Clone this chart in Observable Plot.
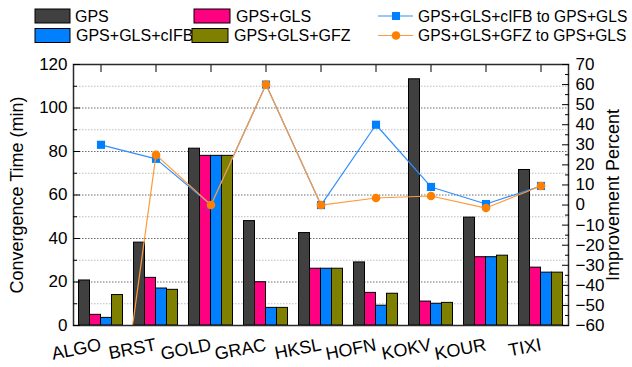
<!DOCTYPE html>
<html>
<head>
<meta charset="utf-8">
<script src="https://cdn.jsdelivr.net/npm/d3@7"></script>
<script src="https://cdn.jsdelivr.net/npm/@observablehq/plot@0.6"></script>
<style>
  body { margin: 0; background: #fff; font-family: "Liberation Sans", Arial, sans-serif; }
  #chart { position: relative; width: 632px; height: 367px; }
  #chart > svg { position: absolute; left: 0; top: 0; }
</style>
</head>
<body>
<div id="chart"></div>
<script>
// Stations and convergence times (minutes)
const stations = ["ALGO", "BRST", "GOLD", "GRAC", "HKSL", "HOFN", "KOKV", "KOUR", "TIXI"];
const gps        = [20.7, 38.1, 81.3, 48.0, 42.5, 29.0, 113.2, 49.6, 71.5];
const gpsGls     = [4.9, 21.9, 78.0, 19.9, 26.1, 15.0, 11.0, 31.4, 26.6];
const gpsGlsCifb = [3.5, 17.0, 78.0, 8.1, 26.1, 9.1, 10.0, 31.4, 24.3];
const gpsGlsGfz  = [14.0, 16.4, 78.0, 8.1, 26.1, 14.6, 10.4, 32.1, 24.3];

// Improvement (%) relative to GPS+GLS, right axis
const cifbImprovement = [30, 23, 0, 60, 0, 40, 9, 0.5, 9.5];
const gfzImprovement  = [-175, 25, 0, 60, 0, 3.5, 4.5, -1.5, 9.5];

// Axis ticks
const leftMajorTicks = [0, 20, 40, 60, 80, 100, 120];
const leftMinorTicks = [10, 30, 50, 70, 90, 110];
const rightTicks = [-60, -50, -40, -30, -20, -10, 0, 10, 20, 30, 40, 50, 60, 70];
const rightMinorTicks = [-55, -45, -35, -25, -15, -5, 5, 15, 25, 35, 45, 55, 65];

const seriesNames = ["GPS", "GPS+GLS", "GPS+GLS+cIFB", "GPS+GLS+GFZ"];
const seriesColors = ["#404040", "#FF0080", "#0080FF", "#808000"];
const seriesValues = [gps, gpsGls, gpsGlsCifb, gpsGlsGfz];
const lineNames = ["GPS+GLS+cIFB to GPS+GLS", "GPS+GLS+GFZ to GPS+GLS"];

const leftDomain = [0, 120];
const rightDomain = [-60, 70];
// map a right-axis percentage onto the left-axis scale
const toLeft = r => leftDomain[0] + (r - rightDomain[0]) * (leftDomain[1] - leftDomain[0]) / (rightDomain[1] - rightDomain[0]);
const fromLeft = v => rightDomain[0] + (v - leftDomain[0]) * (rightDomain[1] - rightDomain[0]) / (leftDomain[1] - leftDomain[0]);

// four bars per station, each a fifth of the station band
const barRows = seriesValues.flatMap((vals, j) =>
  stations.map((s, i) => ({ station: s, series: seriesNames[j], value: vals[i], x1: i - 0.4 + 0.2 * j, x2: i - 0.2 + 0.2 * j }))
);
const cifbRows = stations.map((s, i) => ({ i, v: toLeft(cifbImprovement[i]) }));
const gfzRows = stations.map((s, i) => ({ i, v: toLeft(gfzImprovement[i]) }));
const idx = d3.range(stations.length);

const font = "'Liberation Sans', Arial, sans-serif";

const plot = Plot.plot({
  width: 632,
  height: 367,
  marginLeft: 73,
  marginRight: 64,
  marginTop: 64,
  marginBottom: 42,
  style: { fontFamily: font, background: "transparent", color: "#000" },
  x: { domain: [-0.5, stations.length - 0.5], axis: null },
  y: { domain: leftDomain, axis: null },
  color: { domain: seriesNames, range: seriesColors },
  marks: [
    Plot.ruleY(leftMinorTicks, { stroke: "#bdbdbd", strokeDasharray: "1.5,1.5", strokeWidth: 1 }),
    Plot.ruleY(leftMajorTicks.slice(1, -1), { stroke: "#6e6e6e", strokeDasharray: "1.5,1.5", strokeWidth: 1 }),
    Plot.rectY(barRows, { x1: "x1", x2: "x2", y1: 0, y2: "value", fill: "series", stroke: "#000", strokeWidth: 1 }),
    Plot.line(cifbRows, { x: "i", y: "v", stroke: "#2F8FFF", strokeWidth: 1.2, clip: true }),
    Plot.dot(cifbRows, { x: "i", y: "v", symbol: "square", r: 4.6, fill: "#0080FF", clip: true }),
    Plot.line(gfzRows, { x: "i", y: "v", stroke: "#FF9A3C", strokeWidth: 1.2, clip: true }),
    Plot.dot(gfzRows, { x: "i", y: "v", symbol: "circle", r: 4.3, fill: "#FF8000", clip: true }),
    Plot.frame({ stroke: "#2a2a2a", strokeWidth: 1.5 }),
    // left axis: inward ticks and labels
    Plot.axisY(leftMajorTicks, { anchor: "left", tickSize: -7, tickFormat: () => "", label: null }),
    Plot.axisY(leftMinorTicks, { anchor: "left", tickSize: -4, tickFormat: () => "", label: null }),
    Plot.axisY(leftMajorTicks, { anchor: "left", tickSize: 0, tickPadding: 6, fontSize: 17, label: null }),
    // right axis (improvement percent)
    Plot.axisY(rightTicks.map(toLeft), { anchor: "right", tickSize: -7, tickFormat: () => "", label: null }),
    Plot.axisY(rightMinorTicks.map(toLeft), { anchor: "right", tickSize: -4, tickFormat: () => "", label: null }),
    Plot.axisY(rightTicks.map(toLeft), { anchor: "right", tickSize: 0, tickPadding: 7, fontSize: 17, label: null,
      tickFormat: d => String(Math.round(fromLeft(d))).replace("-", "\u2212") }),
    // station ticks on top, names below
    Plot.axisX(idx, { anchor: "top", tickSize: -7, tickFormat: () => "", label: null }),
    Plot.axisX(idx, { anchor: "bottom", tickSize: 0, tickPadding: 19, tickRotate: -11, fontSize: 18,
      tickFormat: i => stations[i], label: null }),
    // axis titles
    Plot.text(["Convergence Time (min)"], { frameAnchor: "left", textAnchor: "middle", rotate: -90, dx: -56, fontSize: 18, fill: "#000" }),
    Plot.text(["Improvement Percent"], { frameAnchor: "right", textAnchor: "middle", rotate: -90, dx: 45, fontSize: 18, fill: "#000" })
  ]
});
document.getElementById("chart").appendChild(plot);

// legend across the top
const legend = d3.select("#chart").append("svg")
  .attr("width", 632).attr("height", 56)
  .style("font-family", font).style("font-size", "16px");

const boxItems = [
  { x: 35, y: 9, w: 35, text: 75 },
  { x: 194, y: 9, w: 36, text: 236 },
  { x: 35, y: 28.5, w: 35, text: 76 },
  { x: 192, y: 28.5, w: 36, text: 234 }
];
boxItems.forEach((b, k) => {
  legend.append("rect").attr("x", b.x).attr("y", b.y).attr("width", b.w).attr("height", 14)
    .attr("fill", seriesColors[k]).attr("stroke", "#000").attr("stroke-width", 1);
  legend.append("text").attr("x", b.text).attr("y", b.y + 7).attr("dy", "0.36em").text(seriesNames[k]);
});

const lineItems = [
  { y: 16, stroke: "#2F8FFF", fill: "#0080FF", square: true },
  { y: 35.5, stroke: "#FF9A3C", fill: "#FF8000", square: false }
];
lineItems.forEach((l, k) => {
  legend.append("line").attr("x1", 378).attr("x2", 413).attr("y1", l.y).attr("y2", l.y)
    .attr("stroke", l.stroke).attr("stroke-width", 1.2);
  if (l.square) {
    legend.append("rect").attr("x", 392).attr("y", l.y - 4).attr("width", 8).attr("height", 8).attr("fill", l.fill);
  } else {
    legend.append("circle").attr("cx", 396).attr("cy", l.y).attr("r", 4.3).attr("fill", l.fill);
  }
  legend.append("text").attr("x", 418).attr("y", l.y).attr("dy", "0.36em")
    .style("font-size", "15.6px").text(lineNames[k]);
});
</script>
</body>
</html>
